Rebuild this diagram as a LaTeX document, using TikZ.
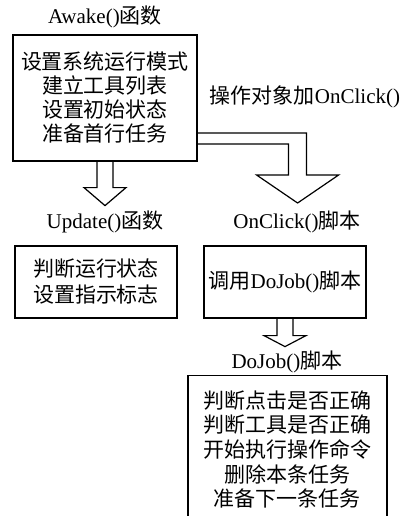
\documentclass[tikz,border=0pt]{standalone}
\usepackage{fontspec}
\setmainfont{Liberation Serif}
\newfontfamily\cjk{Noto Sans CJK SC}
\newcommand{\zh}[1]{{\cjk #1}}
\usetikzlibrary{calc}
\begin{document}
\begin{tikzpicture}[x=0.5pt,y=0.5pt,line width=0.6pt]
\tikzset{box/.style={draw,rectangle,align=center,inner sep=0pt,font=\fontsize{10.5}{12}\selectfont},
  title/.style={font=\fontsize{10.5}{12}\selectfont}}
\useasboundingbox (0,0) rectangle (408,-516);
\node[title](awaket) at (105,-17) {Awake()\zh{函数}};
\node[box,minimum width=92pt,minimum height=63pt](awake) at (105,-98)
  {\zh{设置系统运行模式}\\\zh{建立工具列表}\\\zh{设置初始状态}\\\zh{准备首行任务}};
\node[title](clicklabel) at (305,-97) {\zh{操作对象加}OnClick()};
\node[title](updatet) at (105,-222) {Update()\zh{函数}};
\node[title](clickt) at (297,-222) {OnClick()\zh{脚本}};
\node[box,minimum width=81pt,minimum height=36pt,font=\fontsize{10.5}{13}\selectfont](update) at (96,-282)
  {\zh{判断运行状态}\\\zh{设置指示标志}};
\node[box,minimum width=81pt,minimum height=36pt](call) at (285,-282) {\zh{调用}DoJob()\zh{脚本}};
\node[title](dojobt) at (287,-362) {DoJob()\zh{脚本}};
\node[box,anchor=north,minimum width=99.5pt,inner ysep=7.5pt,font=\fontsize{10.5}{12.3}\selectfont](dojob) at (287.5,-375)
  {\zh{判断点击是否正确}\\\zh{判断工具是否正确}\\\zh{开始执行操作命令}\\\zh{删除本条任务}\\\zh{准备下一条任务}};
% hollow arrows
\draw ($(awake.south)+(-8,0)$) -- ++(0,-26) -- ++(-13,0) -- ++(21,-18) -- ++(21,18) -- ++(-13,0) -- ++(0,26);
\draw ($(awake.east)+(0,-35)$) -- ++(109,0) -- ++(0,-42) -- ++(32,0) -- ++(-41,-28) -- ++(-41,28) -- ++(32,0) -- ++(0,31) -- ++(-91,0);
\draw ($(call.south)+(-8,0)$) -- ++(0,-17) -- ++(-13,0) -- ++(21,-11) -- ++(21,11) -- ++(-13,0) -- ++(0,17);
\end{tikzpicture}
\end{document}
